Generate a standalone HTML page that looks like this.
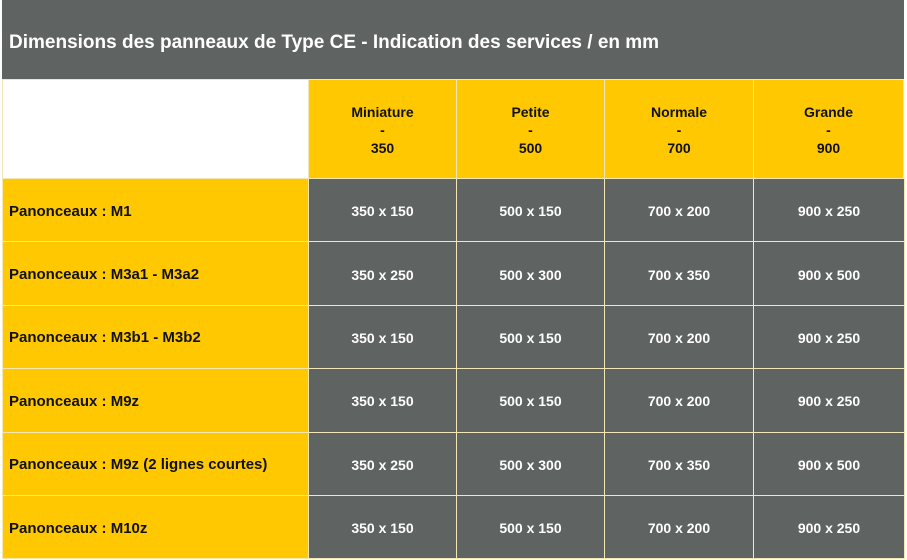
<!DOCTYPE html>
<html><head><style>
body{margin:0;width:907px;height:560px;background:#fff;position:relative;font-family:"Liberation Sans",sans-serif;overflow:hidden}
div.c{position:absolute;box-sizing:border-box;display:flex;align-items:center;font-weight:bold;font-size:14px;color:#111;border:1px solid #f3e7b5}
.g{background:#5f6361}.y{background:#ffc800}
.ctr{justify-content:center;text-align:center}
</style></head><body>
<div class="c g" style="left:2px;top:0;width:902px;height:79px;color:#fff;font-size:19px;padding-left:7px;padding-top:6px;border:none">Dimensions des panneaux de Type CE - Indication des services / en mm</div>
<div class="c" style="left:2px;top:79px;width:307px;height:100px;background:#fff"></div>
<div class="c y ctr" style="left:308px;top:79px;width:149px;height:100px;line-height:18px;padding-top:2px">Miniature<br>-<br>350</div>
<div class="c y ctr" style="left:456px;top:79px;width:149px;height:100px;line-height:18px;padding-top:2px">Petite<br>-<br>500</div>
<div class="c y ctr" style="left:604px;top:79px;width:150px;height:100px;line-height:18px;padding-top:2px">Normale<br>-<br>700</div>
<div class="c y ctr" style="left:753px;top:79px;width:151px;height:100px;line-height:18px;padding-top:2px">Grande<br>-<br>900</div>
<script>
const rows=[["Panonceaux : M1","350 x 150","500 x 150","700 x 200","900 x 250"],
["Panonceaux : M3a1 - M3a2","350 x 250","500 x 300","700 x 350","900 x 500"],
["Panonceaux : M3b1 - M3b2","350 x 150","500 x 150","700 x 200","900 x 250"],
["Panonceaux : M9z","350 x 150","500 x 150","700 x 200","900 x 250"],
["Panonceaux : M9z (2 lignes courtes)","350 x 250","500 x 300","700 x 350","900 x 500"],
["Panonceaux : M10z","350 x 150","500 x 150","700 x 200","900 x 250"]];
const xs=[2,308,456,604,753,904];
let h="";
rows.forEach((r,i)=>{const t=178+i*63.4;r.forEach((v,j)=>{
h+=`<div class="c ${j?'g ctr':'y'}" style="left:${xs[j]}px;top:${t}px;width:${xs[j+1]-xs[j]+1}px;height:64.4px;padding-top:2px;${j?'color:#fff':'padding-left:6px;font-size:15px'}">${v}</div>`;});});
document.write(h);
</script>
</body></html>
